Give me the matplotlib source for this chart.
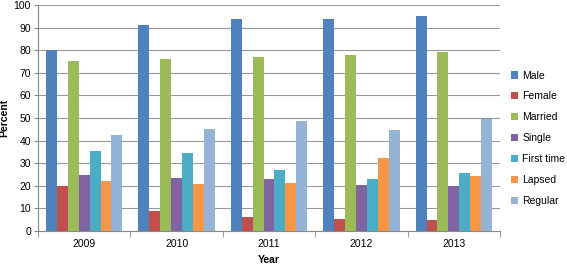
import numpy as np
import matplotlib
matplotlib.use("Agg")
import matplotlib.pyplot as plt

years = ["2009", "2010", "2011", "2012", "2013"]
series = ["Male", "Female", "Married", "Single", "First time", "Lapsed", "Regular"]
male = [80, 91, 94, 94, 95]
female = [20, 9, 6, 5.5, 5]
married = [75, 76, 77, 78, 79]
single = [25, 23.5, 23, 20.5, 20]
first_time = [35.5, 34.5, 27, 23, 25.5]
lapsed = [22, 21, 21.2, 32.5, 24.5]
regular = [42.5, 45, 48.5, 44.5, 49.5]
colors = ["#4F81BD", "#C0504D", "#9BBB59", "#8064A2", "#4BACC6", "#F79646", "#95B3D7"]

values = [male, female, married, single, first_time, lapsed, regular]

plt.rcParams["font.family"] = ["Liberation Sans", "DejaVu Sans"]
fig = plt.figure(figsize=(5.67, 2.68), dpi=100)
ax = fig.add_axes([38 / 567, 1 - 231 / 268, 462 / 567, 226 / 268])

x = np.arange(len(years))
w = 0.118
for i, (name, vals) in enumerate(zip(series, values)):
    ax.bar(x + (i - 3) * w, vals, width=w, color=colors[i], label=name, zorder=3)

ax.set_xlim(-0.5, len(years) - 0.5)
ax.set_ylim(0, 100)
ax.set_yticks(range(0, 101, 10))
ax.set_xticks(x)
ax.set_xticklabels(years)
ax.set_xticks(np.arange(-0.5, len(years)), minor=True)
ax.tick_params(axis="x", which="major", length=0, labelsize=7.5, pad=6)
ax.tick_params(axis="x", which="minor", length=4, color="#888888")
ax.tick_params(axis="y", labelsize=7.5, length=3, color="#888888", pad=2)
ax.grid(axis="y", color="#999999", linewidth=0.8, zorder=0)
for s in ["top", "right"]:
    ax.spines[s].set_visible(False)
for s in ["left", "bottom"]:
    ax.spines[s].set_color("#888888")

ax.set_ylabel("Percent", fontsize=7.5, fontweight="bold", labelpad=3)
ax.set_xlabel("Year", fontsize=7.5, fontweight="bold", labelpad=4)

ax.legend(loc="center left", bbox_to_anchor=(1.01, 0.41), frameon=False,
          fontsize=7.5, handlelength=0.7, handleheight=0.7, labelspacing=1.05,
          handletextpad=0.4, borderaxespad=0.2)

fig.savefig("out.png", dpi=100)
